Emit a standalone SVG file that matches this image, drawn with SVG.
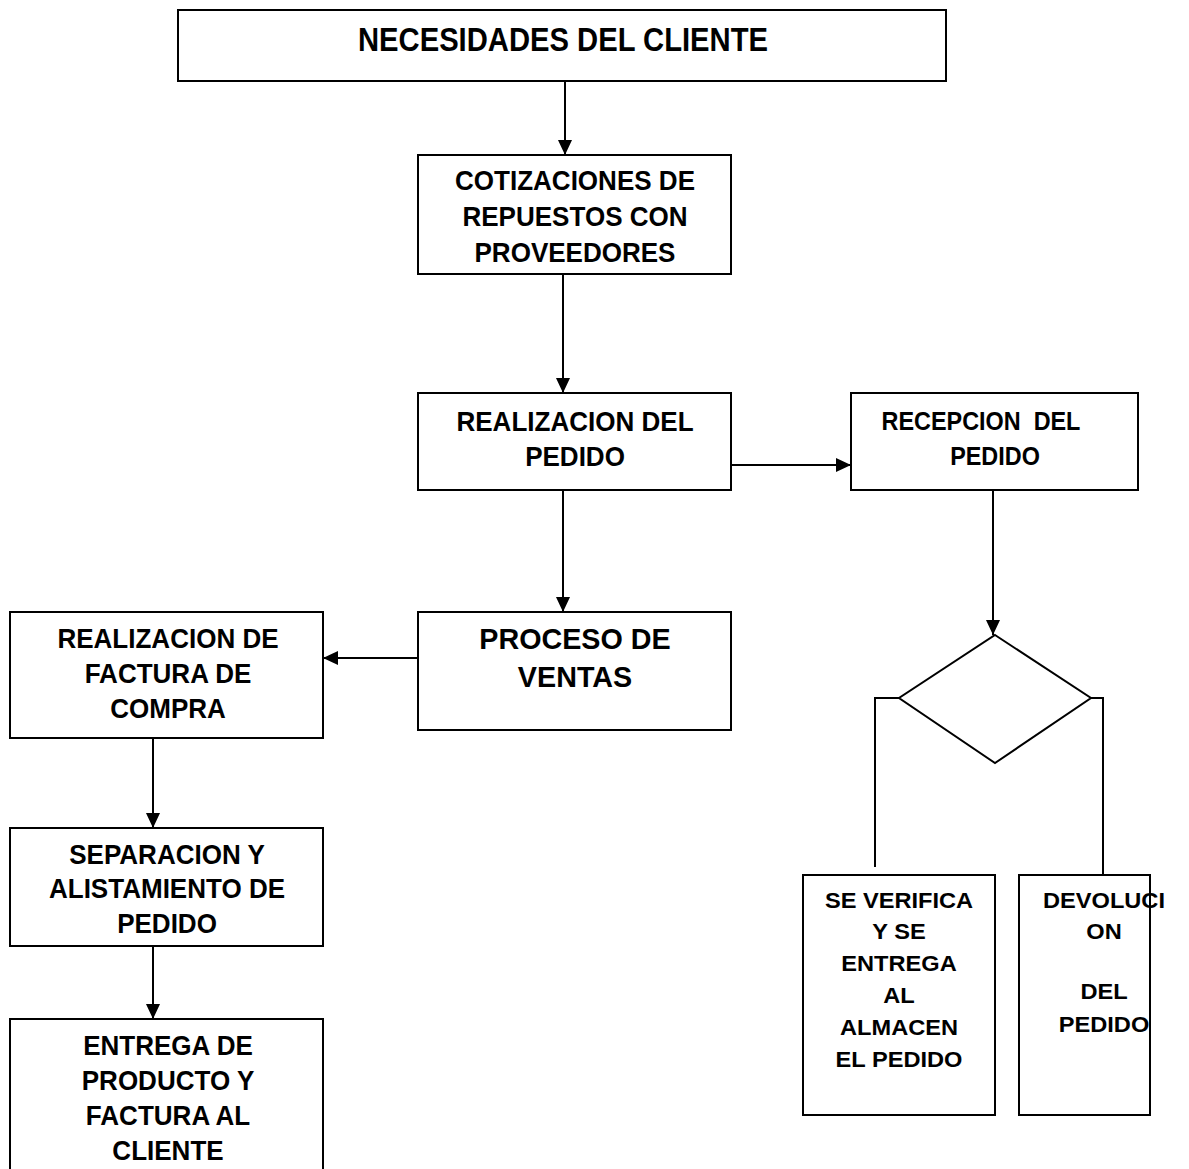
<svg xmlns="http://www.w3.org/2000/svg" width="1189" height="1169" viewBox="0 0 1189 1169">
<defs>
<marker id="ah" markerUnits="userSpaceOnUse" markerWidth="15" markerHeight="15" refX="15" refY="7.5" orient="auto">
<path d="M0,0.5 L15,7.5 L0,14.5 z" fill="#000"/>
</marker>
<style>
.box{fill:#fff;stroke:#000;stroke-width:2}
.ln{fill:none;stroke:#000;stroke-width:2}
.t{font-family:"Liberation Sans",Arial,sans-serif;font-weight:bold;font-size:28px;text-anchor:middle;fill:#000}
.big{font-size:29px}
.sm{font-size:22.5px}
.rc{font-size:26px}
.title{font-size:33px}
</style>
</defs>
<rect width="1189" height="1169" fill="#fff"/>
<g id="connectors">
<line class="ln" x1="565" y1="81" x2="565" y2="155" marker-end="url(#ah)"/>
<line class="ln" x1="563" y1="274" x2="563" y2="393" marker-end="url(#ah)"/>
<line class="ln" x1="731" y1="465" x2="851" y2="465" marker-end="url(#ah)"/>
<line class="ln" x1="563" y1="490" x2="563" y2="612" marker-end="url(#ah)"/>
<line class="ln" x1="418" y1="658" x2="323" y2="658" marker-end="url(#ah)"/>
<line class="ln" x1="153" y1="731" x2="153" y2="828" marker-end="url(#ah)"/>
<line class="ln" x1="153" y1="946" x2="153" y2="1019" marker-end="url(#ah)"/>
<line class="ln" x1="993" y1="490" x2="993" y2="635" marker-end="url(#ah)"/>
<polyline class="ln" points="899,698 875,698 875,867"/>
<polyline class="ln" points="1091,698 1103,698 1103,875"/>
</g>
<g id="n1">
<rect class="box" x="178" y="10" width="768" height="71"/>
<text class="t title" x="563" y="51" textLength="410" lengthAdjust="spacingAndGlyphs">NECESIDADES DEL CLIENTE</text>
</g>
<g id="n2">
<rect class="box" x="418" y="155" width="313" height="119"/>
<text class="t" transform="matrix(0.93 0 0 1 575 0)" x="0" y="190">COTIZACIONES DE</text>
<text class="t" transform="matrix(0.93 0 0 1 575 0)" x="0" y="226">REPUESTOS CON</text>
<text class="t" transform="matrix(0.93 0 0 1 575 0)" x="0" y="262">PROVEEDORES</text>
</g>
<g id="n3">
<rect class="box" x="418" y="393" width="313" height="97"/>
<text class="t" transform="matrix(0.93 0 0 1 575 0)" x="0" y="431">REALIZACION DEL</text>
<text class="t" transform="matrix(0.93 0 0 1 575 0)" x="0" y="466">PEDIDO</text>
</g>
<g id="n4">
<rect class="box" x="851" y="393" width="287" height="97"/>
<text class="t rc" transform="matrix(0.9 0 0 1 981 0)" x="0" y="430" xml:space="preserve">RECEPCION  DEL</text>
<text class="t rc" transform="matrix(0.9 0 0 1 995 0)" x="0" y="465">PEDIDO</text>
</g>
<g id="n5">
<rect class="box" x="418" y="612" width="313" height="118"/>
<text class="t big" transform="matrix(0.99 0 0 1 575 0)" x="0" y="649">PROCESO DE</text>
<text class="t big" transform="matrix(0.99 0 0 1 575 0)" x="0" y="687">VENTAS</text>
</g>
<g id="n6">
<rect class="box" x="10" y="612" width="313" height="126"/>
<text class="t" transform="matrix(0.93 0 0 1 168 0)" x="0" y="648">REALIZACION DE</text>
<text class="t" transform="matrix(0.93 0 0 1 168 0)" x="0" y="683">FACTURA DE</text>
<text class="t" transform="matrix(0.93 0 0 1 168 0)" x="0" y="718">COMPRA</text>
</g>
<g id="n7">
<rect class="box" x="10" y="828" width="313" height="118"/>
<text class="t" transform="matrix(0.93 0 0 1 167 0)" x="0" y="864">SEPARACION Y</text>
<text class="t" transform="matrix(0.93 0 0 1 167 0)" x="0" y="898">ALISTAMIENTO DE</text>
<text class="t" transform="matrix(0.93 0 0 1 167 0)" x="0" y="933">PEDIDO</text>
</g>
<g id="n8">
<rect class="box" x="10" y="1019" width="313" height="170"/>
<text class="t" transform="matrix(0.93 0 0 1 168 0)" x="0" y="1055">ENTREGA DE</text>
<text class="t" transform="matrix(0.93 0 0 1 168 0)" x="0" y="1090">PRODUCTO Y</text>
<text class="t" transform="matrix(0.93 0 0 1 168 0)" x="0" y="1125">FACTURA AL</text>
<text class="t" transform="matrix(0.93 0 0 1 168 0)" x="0" y="1160">CLIENTE</text>
</g>
<g id="n9">
<polygon class="box" points="995,635 1091,698 995,763 899,698"/>
</g>
<g id="n10">
<rect class="box" x="803" y="875" width="192" height="240"/>
<text class="t sm" transform="matrix(1.05 0 0 1 899 0)" x="0" y="908">SE VERIFICA</text>
<text class="t sm" transform="matrix(1.05 0 0 1 899 0)" x="0" y="939">Y SE</text>
<text class="t sm" transform="matrix(1.05 0 0 1 899 0)" x="0" y="971">ENTREGA</text>
<text class="t sm" transform="matrix(1.05 0 0 1 899 0)" x="0" y="1003">AL</text>
<text class="t sm" transform="matrix(1.05 0 0 1 899 0)" x="0" y="1035">ALMACEN</text>
<text class="t sm" transform="matrix(1.05 0 0 1 899 0)" x="0" y="1067">EL PEDIDO</text>
</g>
<g id="n11">
<rect class="box" x="1019" y="875" width="131" height="240"/>
<text class="t sm" transform="matrix(1.05 0 0 1 1104 0)" x="0" y="908">DEVOLUCI</text>
<text class="t sm" transform="matrix(1.05 0 0 1 1104 0)" x="0" y="939">ON</text>
<text class="t sm" transform="matrix(1.05 0 0 1 1104 0)" x="0" y="999">DEL</text>
<text class="t sm" transform="matrix(1.05 0 0 1 1104 0)" x="0" y="1032">PEDIDO</text>
</g>
</svg>
